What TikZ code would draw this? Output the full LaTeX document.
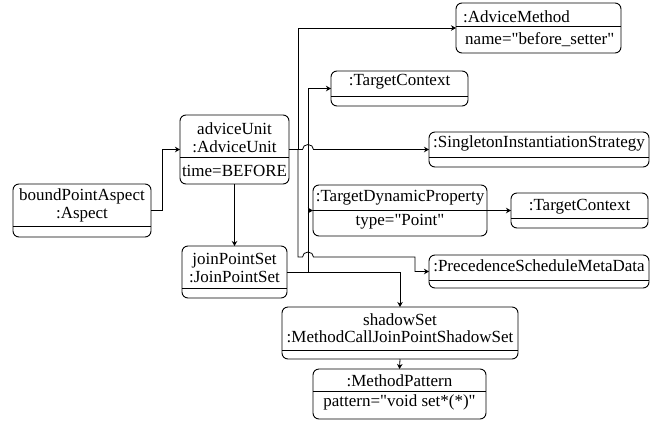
\documentclass[tikz,border=0pt]{standalone}
\usepackage{fontspec}
\setmainfont{Liberation Serif}
\usetikzlibrary{arrows.meta,calc}

% object box: name, left, top, right, bottom, separator (all in pt, y measured downwards)
\newcommand\objbox[6]{%
  \pgfmathsetmacro\bw{#4-#2}\pgfmathsetmacro\bh{#5-#3}%
  \pgfmathsetmacro\bx{(#2+#4)/2}\pgfmathsetmacro\by{-(#3+#5)/2}%
  \node[objbox,minimum width=\bw pt,minimum height=\bh pt] (#1) at (\bx,\by) {};
  \draw[boxline] (#1.west |- 0,-#6) -- (#1.east |- 0,-#6);}

\newcommand\sq{\textquotedbl}

\tikzset{
  objbox/.style={draw,line width=0.9pt,rounded corners=6pt,inner sep=0pt,outer sep=0pt},
  boxline/.style={line width=0.9pt},
  lbl/.style={inner sep=0pt,anchor=base,font=\fontsize{17}{20}\selectfont},
  lbll/.style={lbl,anchor=base west},
  wire/.style={line width=0.8pt},
  arr/.style={wire,-{Stealth[length=5pt,width=5.5pt,inset=1.5pt]}},
}

\begin{document}
\begin{tikzpicture}[x=1pt,y=1pt]
\useasboundingbox (0,0) rectangle (656,-421);

% boxes
\objbox{bpa}{13}{184}{151}{237}{226}
\objbox{au}{180}{115}{289}{184}{157}
\objbox{jps}{182}{246}{287}{298}{288}
\objbox{am}{456}{3}{621}{53}{26}
\objbox{tca}{331}{71}{468}{106}{96}
\objbox{sis}{429}{132}{649}{167}{157}
\objbox{tdp}{313}{185}{487}{236}{210}
\objbox{tcb}{511}{193}{648}{228}{218}
\objbox{psmd}{429}{255}{649}{288}{280}
\objbox{ss}{282}{307}{518}{359}{350}
\objbox{mp}{313}{369}{486}{419}{391}

% labels
\node[lbl] (bpa1) at (82,-200) {boundPointAspect};
\node[lbl] (bpa2) at (82,-218.5) {:Aspect};
\node[lbl] (au1) at (234.5,-134.5) {adviceUnit};
\node[lbl] (au2) at (234.5,-152.5) {:AdviceUnit};
\node[lbl] (au3) at (234.5,-176.5) {time=BEFORE};
\node[lbl] (jps1) at (234.5,-264) {joinPointSet};
\node[lbl] (jps2) at (234.5,-282) {:JoinPointSet};
\node[lbll] (am1) at (463,-22.5) {:AdviceMethod};
\node[lbll] (am2) at (465,-44) {name=\sq before\_setter\sq};
\node[lbl] (tca1) at (399.5,-85) {:TargetContext};
\node[lbl] (sis1) at (539,-147.5) {:SingletonInstantiationStrategy};
\node[lbl] (tdp1) at (400,-201.5) {:TargetDynamicProperty};
\node[lbl] (tdp2) at (400,-225) {type=\sq Point\sq};
\node[lbl] (tcb1) at (579.5,-210.5) {:TargetContext};
\node[lbl] (psmd1) at (539,-271.5) {:PrecedenceScheduleMetaData};
\node[lbl] (ss1) at (400,-325.5) {shadowSet};
\node[lbl] (ss2) at (400,-342.5) {:MethodCallJoinPointShadowSet};
\node[lbl] (mp1) at (399.5,-386.5) {:MethodPattern};
\node[lbl] (mp2) at (399.5,-406) {pattern=\sq void set*(*)\sq};

% bus positions
\coordinate (va) at (298,0);
\coordinate (vb) at (308,0);
\coordinate (pb) at (415,-257);

% connectors
\draw[arr] (bpa.east) -- ++(11,0) |- (au.west);
\draw[arr] (au.south) -- (jps.north);
\draw[arr] (au.east) -- ([xshift=-5.5pt]au.east -| vb)
  arc[start angle=180,end angle=0,x radius=5.5,y radius=5] -- (sis.west);
\draw[arr] (au.east -| va) |- (am.west);
\draw[arr] (au.east -| va) -- (va |- pb) -- ([xshift=-5.5pt]vb |- pb)
  arc[start angle=180,end angle=0,x radius=5.5,y radius=5] -- (pb) |- (psmd.west);
\draw[arr] (jps.east -| vb) |- (tca.west);
\draw[arr] (jps.east -| vb) |- (tdp.west);
\draw[arr] (jps.east) -| (ss.north);
\draw[arr] (tdp.east) -- (tcb.west);
\draw[arr] (ss.south) -- (mp.north);
\end{tikzpicture}
\end{document}
